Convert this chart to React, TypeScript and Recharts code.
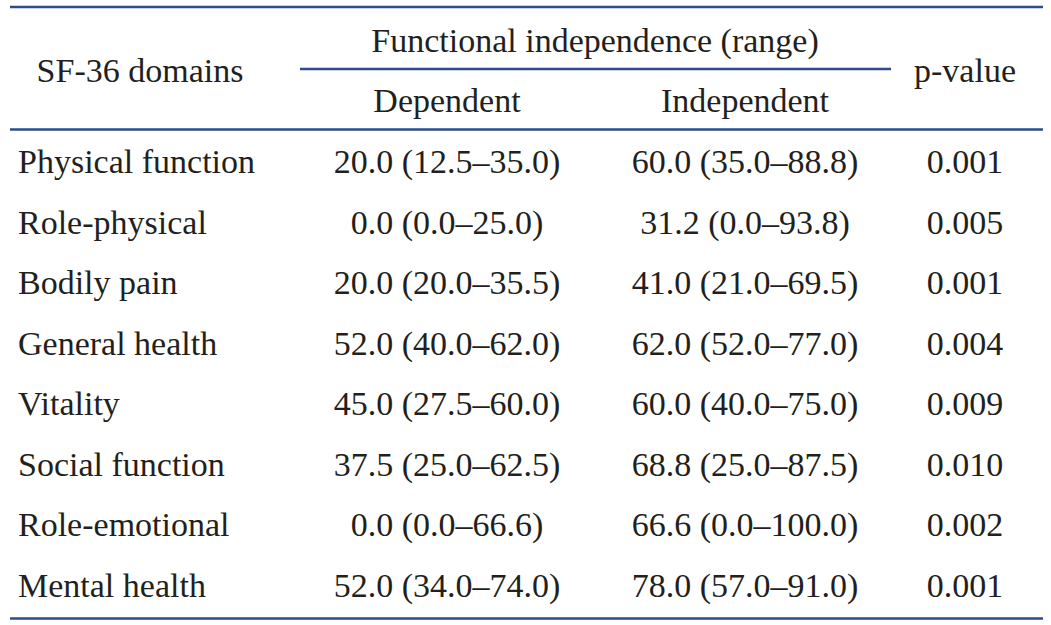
import { ScatterChart, Scatter, XAxis, YAxis, ReferenceLine } from 'recharts';

// Table content
const DOMAINS = [
  'Physical function',
  'Role-physical',
  'Bodily pain',
  'General health',
  'Vitality',
  'Social function',
  'Role-emotional',
  'Mental health'
];
const DEPENDENT = [
  '20.0 (12.5–35.0)',
  '0.0 (0.0–25.0)',
  '20.0 (20.0–35.5)',
  '52.0 (40.0–62.0)',
  '45.0 (27.5–60.0)',
  '37.5 (25.0–62.5)',
  '0.0 (0.0–66.6)',
  '52.0 (34.0–74.0)'
];
const INDEPENDENT = [
  '60.0 (35.0–88.8)',
  '31.2 (0.0–93.8)',
  '41.0 (21.0–69.5)',
  '62.0 (52.0–77.0)',
  '60.0 (40.0–75.0)',
  '68.8 (25.0–87.5)',
  '66.6 (0.0–100.0)',
  '78.0 (57.0–91.0)'
];
const P_VALUES = ['0.001', '0.005', '0.001', '0.004', '0.009', '0.010', '0.002', '0.001'];
const HEADER_GROUP = 'Functional independence (range)';
const HEADER_COLS = ['SF-36 domains', 'Dependent', 'Independent', 'p-value'];

// layout (x in pixels, y in row units)
const W = 1051;
const H = 625;
const COL_X = [18, 447, 745, 965];
const GROUP_X = 595;
const FIRST_HEADER_X = 140;
const Y_DOMAIN = [-2.6746, 7.644];
const RULE = '#2e4b8b';
const INK = '#231f20';
const FONT = '"Liberation Serif", "Times New Roman", serif';

const cellShape = (anchor: 'start' | 'middle') => (props: any) => {
  const { cx, cy, payload } = props;
  return (
    <text
      x={cx}
      y={cy}
      dy={11}
      textAnchor={anchor}
      fontFamily={FONT}
      fontSize={34}
      fill={INK}
    >
      {payload.label}
    </text>
  );
};

export default function App() {
  const columns = [DOMAINS, DEPENDENT, INDEPENDENT, P_VALUES].map((col, c) =>
    col.map((label, i) => ({ x: COL_X[c], y: i, label }))
  );

  const headers = [
    { x: GROUP_X, y: -2, label: HEADER_GROUP },
    { x: FIRST_HEADER_X, y: -1.5, label: HEADER_COLS[0] },
    { x: COL_X[1], y: -1, label: HEADER_COLS[1] },
    { x: COL_X[2], y: -1, label: HEADER_COLS[2] },
    { x: COL_X[3], y: -1.5, label: HEADER_COLS[3] }
  ];

  return (
    <div style={{ position: 'absolute', left: 0, top: 0, background: '#fff' }}>
      <ScatterChart width={W} height={H} margin={{ top: 0, right: 0, bottom: 0, left: 0 }}>
        <XAxis type="number" dataKey="x" domain={[0, W]} hide allowDataOverflow />
        <YAxis type="number" dataKey="y" domain={Y_DOMAIN} reversed hide allowDataOverflow />
        <ReferenceLine segment={[{ x: 10, y: -2.559 }, { x: 1043, y: -2.559 }]} stroke={RULE} strokeWidth={2.5} />
        <ReferenceLine segment={[{ x: 300, y: -1.535 }, { x: 891, y: -1.535 }]} stroke={RULE} strokeWidth={2.5} />
        <ReferenceLine segment={[{ x: 10, y: -0.537 }, { x: 1043, y: -0.537 }]} stroke={RULE} strokeWidth={2.5} />
        <ReferenceLine segment={[{ x: 10, y: 7.537 }, { x: 1043, y: 7.537 }]} stroke={RULE} strokeWidth={2.5} />
        <Scatter data={headers} shape={cellShape('middle')} isAnimationActive={false} />
        {columns.map((data, c) => (
          <Scatter
            key={c}
            data={data}
            shape={cellShape(c === 0 ? 'start' : 'middle')}
            isAnimationActive={false}
          />
        ))}
      </ScatterChart>
    </div>
  );
}
